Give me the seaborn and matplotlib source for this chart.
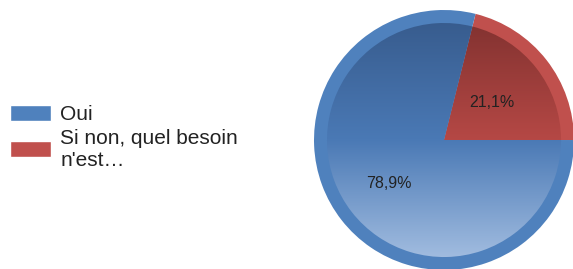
import numpy as np
import matplotlib
matplotlib.use("Agg")
import matplotlib.pyplot as plt
import seaborn as sns
from matplotlib.colors import LinearSegmentedColormap
from matplotlib.patches import Wedge, Patch

labels = ["Si non, quel besoin\nn'est…", "Oui"]
values = [21.1, 78.9]
ring_colors = ["#C0504D", "#4F81BD"]
grad_top = ["#7d302e", "#36598a"]
grad_mid = ["#b54845", "#4a79b5"]
grad_bottom = ["#d07a77", "#aac3e4"]

sns.set_theme(style="white")
plt.rcParams["font.family"] = ["Liberation Sans", "DejaVu Sans"]

fig = plt.figure(figsize=(5.73, 2.69), dpi=100)
ax = fig.add_axes([0.548, -0.004, 0.4538, 0.967])

wedges, texts, autotexts = ax.pie(
    values, colors=ring_colors, startangle=0, counterclock=True,
    autopct=lambda p: f"{p:.1f}%".replace(".", ","), pctdistance=0.47,
    wedgeprops=dict(linewidth=0), textprops=dict(fontsize=11.5, color="#222222"),
    labels=None,
)

# gradient fill inside each wedge, leaving a solid outer rim
grad = np.linspace(0, 1, 256).reshape(-1, 1)
for w, top, mid, bot in zip(wedges, grad_top, grad_mid, grad_bottom):
    inner = Wedge((0, 0), 0.9, w.theta1, w.theta2, transform=ax.transData,
                  facecolor="none", edgecolor="none")
    ax.add_patch(inner)
    cmap = LinearSegmentedColormap.from_list("g", [top, mid, bot])
    im = ax.imshow(grad, cmap=cmap, extent=[-1, 1, -1, 1], origin="upper",
                   aspect="auto", zorder=1.5)
    im.set_clip_path(inner)

# nudge the big-slice label outward like the original
t = autotexts[1]
x, y = t.get_position()
t.set_position((x * 1.15, y * 1.15))
for t in autotexts:
    t.set_zorder(3)

ax.set_xlim(-1, 1)
ax.set_ylim(-1, 1)
ax.set_aspect("equal")
ax.axis("off")

handles = [Patch(facecolor=ring_colors[1]), Patch(facecolor=ring_colors[0])]
fig.legend(handles, [labels[1], labels[0]], loc="upper left",
           bbox_to_anchor=(0.0035, 0.64), frameon=False, fontsize=15,
           handlelength=1.95, handleheight=0.8, handletextpad=0.45,
           labelspacing=0.2, borderaxespad=0, labelcolor="#222222")

fig.savefig("out.png", dpi=100)
